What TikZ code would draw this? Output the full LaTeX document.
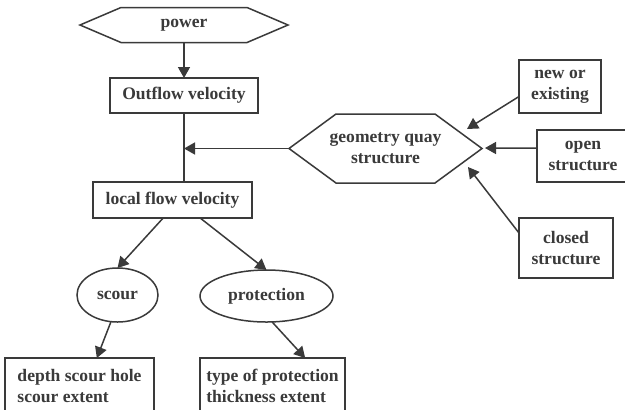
\documentclass[tikz,border=0pt]{standalone}
\usepackage{fontspec}
\setmainfont{Liberation Serif}
\usetikzlibrary{shapes.geometric,arrows.meta}
\definecolor{inkgray}{HTML}{3A3A3A}
\tikzset{
  box/.style={draw, rectangle, outer sep=0pt, align=center},
  hexnode/.style={rectangle, outer sep=0pt, align=center},
  oval/.style={draw, ellipse, outer sep=0pt},
  flow/.style={-{Triangle[length=0.33cm,width=0.36cm]}},
}
\begin{document}
\begin{tikzpicture}[x=0.03cm, y=-0.03cm, line width=0.045cm, color=inkgray,
    font=\bfseries\fontsize{15}{18}\selectfont]
  \useasboundingbox (0,0) rectangle (625,409);
  \fill[white] (0,0) rectangle (625,409);

  % power and velocities
  \node[hexnode, minimum width=6.24cm, minimum height=1.05cm] (power) at (184,25) {power};
  \draw (power.west) -- ([xshift=1.23cm]power.north west) -- ([xshift=-1.23cm]power.north east)
    -- (power.east) -- ([xshift=-1.23cm]power.south east) -- ([xshift=1.23cm]power.south west) -- cycle;
  \node[box, minimum width=4.44cm, minimum height=1.05cm] (outflow) at (184,95.5) {Outflow velocity};
  \node[box, minimum width=4.77cm, minimum height=1.08cm] (local) at (172.5,200) {local flow velocity};

  % quay structure
  \node[hexnode, minimum width=5.79cm, minimum height=2.07cm] (geometry) at (385.5,148.5) {geometry quay\\structure};
  \draw (geometry.west) -- ([xshift=1.41cm]geometry.north west) -- ([xshift=-1.41cm]geometry.north east)
    -- (geometry.east) -- ([xshift=-1.41cm]geometry.south east) -- ([xshift=1.41cm]geometry.south west) -- cycle;
  \node[box, minimum width=2.46cm, minimum height=1.59cm] (newex) at (560,86.5) {new or\\existing};
  \node[box, minimum width=2.76cm, minimum height=1.56cm] (open) at (583,156) {open\\structure};
  \node[box, minimum width=2.82cm, minimum height=1.8cm] (closed) at (566,248) {closed\\structure};

  % scour and protection
  \node[oval, minimum width=2.43cm, minimum height=1.62cm] (scour) at (117.5,295) {scour};
  \node[oval, minimum width=3.99cm, minimum height=1.56cm] (protection) at (266.5,296) {protection};
  \node[box, align=left, minimum width=4.47cm, minimum height=1.68cm] (depth) at (79.5,386) {depth scour hole\\scour extent};
  \node[box, align=left, minimum width=4.35cm, minimum height=1.68cm] (type) at (272.5,386) {type of protection\\thickness extent};

  % connectors
  \coordinate (gne) at (467,129);
  \coordinate (gee) at (485,148);
  \coordinate (gse) at (468,167);
  \draw[flow] (power.south) -- (outflow.north);
  \draw (outflow.south) -- (outflow.south |- local.north);
  \draw[flow] (geometry.west) -- (geometry.west -| outflow.south);
  \draw[flow] ([yshift=-0.3cm]newex.west) -- (gne);
  \draw[flow] ([yshift=0.24cm]open.west) -- (gee);
  \draw[flow] ([yshift=0.45cm]closed.west) -- (gse);
  \draw[flow] ([xshift=-0.28cm]local.south) -- (scour.north);
  \draw[flow] ([xshift=0.83cm]local.south) -- (protection.north);
  \draw[flow] ([xshift=-0.2cm]scour.south) -- ([xshift=0.52cm]depth.north);
  \draw[flow] ([xshift=0.17cm]protection.south) -- ([xshift=0.98cm]type.north);
\end{tikzpicture}
\end{document}
